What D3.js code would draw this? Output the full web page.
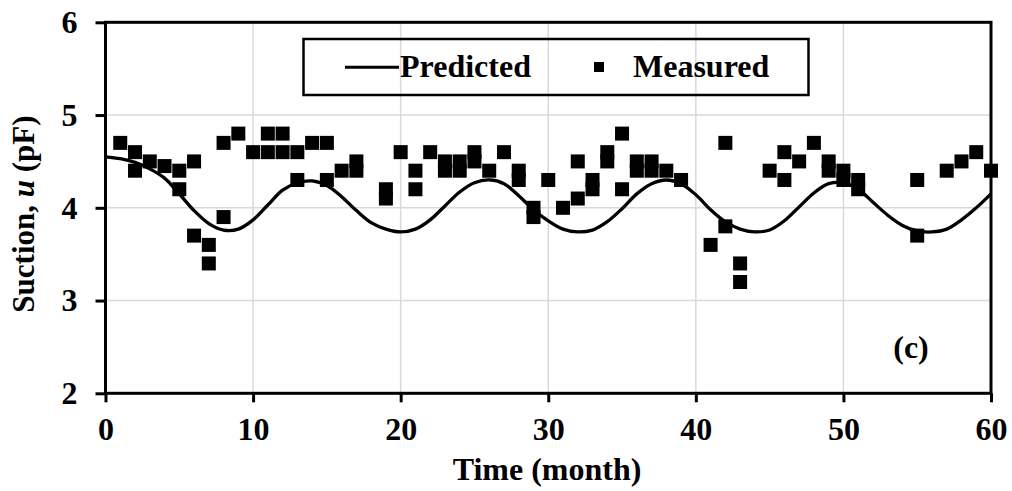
<!DOCTYPE html>
<html>
<head>
<meta charset="utf-8">
<script src="https://cdn.jsdelivr.net/npm/d3@7"></script>
<style>
  body { margin: 0; background: #fff; }
  text { font-family: "Liberation Serif", "Times New Roman", serif; font-weight: bold; }
</style>
</head>
<body>
<svg id="chart_svg"></svg>
<script>
var viewWidth = 1012;
var viewHeight = 491;

// measured suction (pF) vs time (month)
var measMonth = [1, 2, 2, 3, 4, 5, 5, 6, 6, 7, 7, 8, 8, 9, 10, 11, 11, 12, 12, 13, 13, 14, 15, 15,
  16, 17, 17, 19, 19, 20, 21, 21, 22, 23, 23, 24, 24, 25, 25, 26, 27, 28, 28, 29, 29, 30,
  31, 32, 32, 33, 33, 34, 34, 35, 35, 36, 36, 37, 37, 38, 39, 41, 42, 42, 43, 43,
  45, 46, 46, 47, 48, 49, 49, 50, 50, 51, 51, 55, 55, 57, 58, 59, 60];
var measSuction = [4.7, 4.6, 4.4, 4.5, 4.45, 4.4, 4.2, 4.5, 3.7, 3.6, 3.4, 4.7, 3.9, 4.8, 4.6, 4.8, 4.6, 4.8, 4.6, 4.6, 4.3, 4.7, 4.7, 4.3,
  4.4, 4.5, 4.4, 4.2, 4.1, 4.6, 4.4, 4.2, 4.6, 4.5, 4.4, 4.5, 4.4, 4.6, 4.5, 4.4, 4.6, 4.4, 4.3, 4.0, 3.9, 4.3,
  4.0, 4.5, 4.1, 4.3, 4.2, 4.6, 4.5, 4.8, 4.2, 4.5, 4.4, 4.5, 4.4, 4.4, 4.3, 3.6, 4.7, 3.8, 3.4, 3.2,
  4.4, 4.6, 4.3, 4.5, 4.7, 4.5, 4.4, 4.4, 4.3, 4.3, 4.2, 4.3, 3.7, 4.4, 4.5, 4.6, 4.4];

var predMonth = d3.range(0, 61);
var predSuction = [4.55, 4.53, 4.49, 4.42, 4.32, 4.15, 3.97, 3.83, 3.76, 3.77,
  3.87, 4.03, 4.19, 4.27, 4.29, 4.24, 4.12, 3.97, 3.84, 3.77,
  3.74, 3.77, 3.87, 4.02, 4.17, 4.27, 4.30, 4.26, 4.13, 3.98,
  3.86, 3.77, 3.74, 3.76, 3.85, 3.99, 4.15, 4.26, 4.30, 4.26,
  4.14, 3.98, 3.85, 3.77, 3.74, 3.76, 3.86, 4.01, 4.16, 4.26,
  4.27, 4.20, 4.06, 3.92, 3.81, 3.75, 3.74, 3.77, 3.87, 4.00, 4.15];

var xTicks = [0, 10, 20, 30, 40, 50, 60];
var yTicks = [2, 3, 4, 5, 6];

var margin = {top: 22.3, right: 21, bottom: 97.7, left: 105.5};
var width = viewWidth - margin.left - margin.right;
var height = viewHeight - margin.top - margin.bottom;

var svg = d3.select("#chart_svg")
    .attr("width", viewWidth)
    .attr("height", viewHeight);

var g = svg.append("g")
    .attr("transform", "translate(" + margin.left + "," + margin.top + ")");

var x = d3.scaleLinear().domain([0, 60]).range([0, width]);
var y = d3.scaleLinear().domain([2, 6]).range([height, 0]);

// gridlines
g.selectAll(".xgrid")
    .data(xTicks.slice(1, -1))
  .enter().append("line")
    .attr("x1", function(d) { return x(d); })
    .attr("x2", function(d) { return x(d); })
    .attr("y1", 0)
    .attr("y2", height)
    .style("stroke", "#d9d9d9")
    .style("stroke-width", 1.5);

g.selectAll(".ygrid")
    .data(yTicks.slice(1, -1))
  .enter().append("line")
    .attr("x1", 0)
    .attr("x2", width)
    .attr("y1", function(d) { return y(d); })
    .attr("y2", function(d) { return y(d); })
    .style("stroke", "#d9d9d9")
    .style("stroke-width", 1.5);

// axes
var xAxis = d3.axisBottom(x).tickValues(xTicks).tickSize(9).tickPadding(15).tickFormat(d3.format("d"));
var yAxis = d3.axisLeft(y).tickValues(yTicks).tickSize(10).tickPadding(18).tickFormat(d3.format("d"));

var xg = g.append("g")
    .attr("transform", "translate(0," + height + ")")
    .call(xAxis);
var yg = g.append("g")
    .call(yAxis);

[xg, yg].forEach(function(a) {
  a.select(".domain").remove();
  a.selectAll("line").style("stroke", "#000").style("stroke-width", 3);
  a.selectAll("text")
    .style("font-family", "'Liberation Serif', serif")
    .style("font-weight", "bold")
    .style("font-size", "32px")
    .style("fill", "#000");
});

// plot frame
g.append("rect")
    .attr("x", 0)
    .attr("y", 0)
    .attr("width", width)
    .attr("height", height)
    .style("fill", "none")
    .style("stroke", "#000")
    .style("stroke-width", 3);

// predicted line
var line = d3.line()
    .x(function(d, i) { return x(predMonth[i]); })
    .y(function(d) { return y(d); })
    .curve(d3.curveCatmullRom);

g.append("path")
    .datum(predSuction)
    .attr("d", line)
    .style("fill", "none")
    .style("stroke", "#000")
    .style("stroke-width", 3.3);

// measured points
var sz = 14;
g.selectAll(".dot")
    .data(measSuction)
  .enter().append("rect")
    .attr("class", "dot")
    .attr("x", function(d, i) { return x(measMonth[i]) - sz / 2; })
    .attr("y", function(d) { return y(d) - sz / 2; })
    .attr("width", sz)
    .attr("height", sz)
    .style("fill", "#000");

// legend
var legend = svg.append("g");
legend.append("rect")
    .attr("x", 303.5)
    .attr("y", 39)
    .attr("width", 505)
    .attr("height", 56)
    .style("fill", "none")
    .style("stroke", "#000")
    .style("stroke-width", 2.5);
legend.append("line")
    .attr("x1", 345)
    .attr("x2", 399)
    .attr("y1", 67.3)
    .attr("y2", 67.3)
    .style("stroke", "#000")
    .style("stroke-width", 3);
legend.append("text")
    .attr("x", 400)
    .attr("y", 77)
    .style("font-size", "32px")
    .text("Predicted");
legend.append("rect")
    .attr("x", 594)
    .attr("y", 62)
    .attr("width", 10)
    .attr("height", 10)
    .style("fill", "#000");
legend.append("text")
    .attr("x", 633)
    .attr("y", 77)
    .style("font-size", "32px")
    .text("Measured");

// panel label
svg.append("text")
    .attr("x", 911)
    .attr("y", 358)
    .attr("text-anchor", "middle")
    .style("font-size", "32px")
    .text("(c)");

// axis titles
svg.append("text")
    .attr("x", 547)
    .attr("y", 480)
    .attr("text-anchor", "middle")
    .style("font-size", "32px")
    .text("Time (month)");

var ytitle = svg.append("text")
    .attr("transform", "translate(34,214) rotate(-90)")
    .attr("text-anchor", "middle")
    .style("font-size", "31px");
ytitle.append("tspan").text("Suction, ");
ytitle.append("tspan").style("font-style", "italic").text("u");
ytitle.append("tspan").text(" (pF)");
</script>
</body>
</html>
